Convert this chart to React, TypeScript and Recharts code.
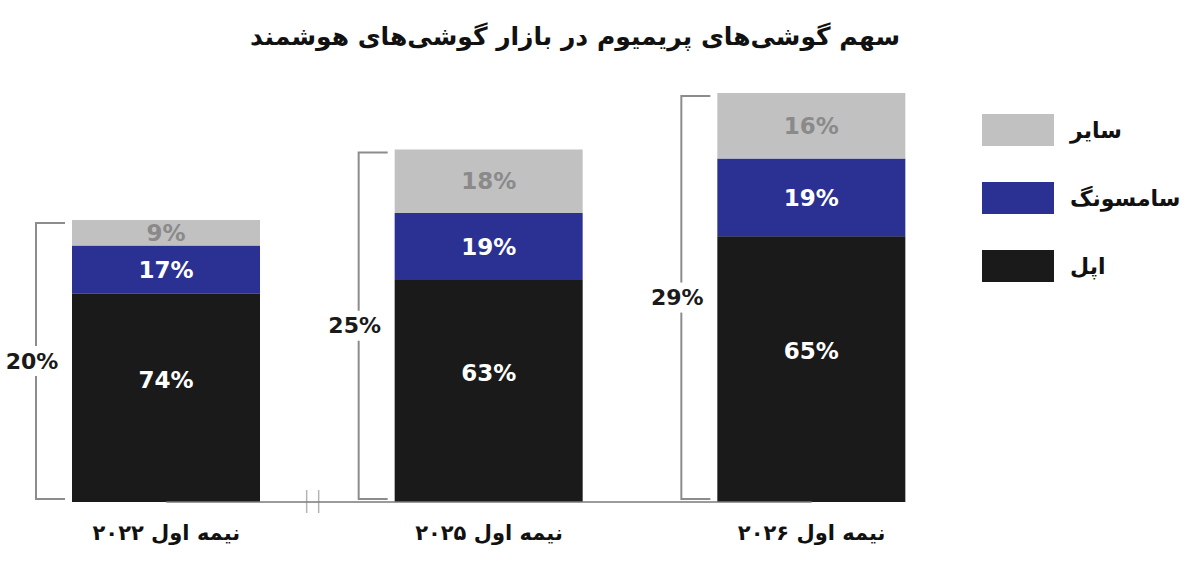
import React from "react";
import { BarChart, Bar, XAxis, YAxis, LabelList, Legend, ReferenceLine } from "recharts";

const categories = ["نیمه اول ۲۰۲۲", "نیمه اول ۲۰۲۵", "نیمه اول ۲۰۲۶"];
// share of premium phones in the whole smartphone market
const premiumTotal = [20, 25, 29];
// split of the premium segment between brands
const appleShare = [74, 63, 65];
const samsungShare = [17, 19, 19];
const otherShare = [9, 18, 16];

const legendItems = [
    { name: "سایر", color: "#c1c1c1" },
    { name: "سامسونگ", color: "#2b3192" },
    { name: "اپل", color: "#1a1a1a" },
];

const FONT = "'DejaVu Sans', sans-serif";

const data = categories.map((name, i) => ({
    name,
    total: premiumTotal[i],
    appleShare: appleShare[i],
    samsungShare: samsungShare[i],
    otherShare: otherShare[i],
    apple: (premiumTotal[i] * appleShare[i]) / 100,
    samsung: (premiumTotal[i] * samsungShare[i]) / 100,
    other: (premiumTotal[i] * otherShare[i]) / 100,
}));

// bottom segment also draws the bracket with the total share on its left
// eslint-disable-next-line @typescript-eslint/no-explicit-any
const AppleShape = (props: any) => {
    const { x, y, width, height, fill, payload, index } = props;
    const bottom = y + height;
    const pxPerUnit = height / payload.apple;
    const top = bottom - payload.total * pxPerUnit;
    const lx = x - 36;
    const t = top + 3;
    const b = bottom - 3;
    const mid = (t + b) / 2;
    return (
        <g>
            <rect x={x} y={y} width={width} height={height} fill={fill} />
            <path d={`M${x - 7},${t}H${lx}V${b}H${x - 7}`} stroke="#8c8c8c" strokeWidth={2} fill="none" />
            <rect x={lx - 32} y={mid - 15} width={58} height={30} fill="#fff" />
            <text x={lx - 4} y={mid} textAnchor="middle" dominantBaseline="central"
                fontFamily={FONT} fontWeight="bold" fontSize={22} fill="#1a1a1a">
                {payload.total}%
            </text>
            {index === 1 && (
                <g stroke="#b5b5b5" strokeWidth={1.5}>
                    <line x1={x - 88} y1={bottom - 12} x2={x - 88} y2={bottom + 11} />
                    <line x1={x - 76} y1={bottom - 12} x2={x - 76} y2={bottom + 11} />
                </g>
            )}
        </g>
    );
};

// eslint-disable-next-line @typescript-eslint/no-explicit-any
const CategoryTick = ({ x, y, payload }: any) => (
    <text x={x} y={y + 38} textAnchor="middle" fontFamily={FONT} fontWeight="bold" fontSize={21} fill="#111">
        {payload.value}
    </text>
);

const LegendBox = () => (
    <div style={{ fontFamily: FONT }}>
        {legendItems.map((item) => (
            <div key={item.name} style={{ display: "flex", alignItems: "center", height: 32, marginBottom: 36 }}>
                <div style={{ width: 72, height: 32, background: item.color }} />
                <span style={{ marginLeft: 16, fontWeight: "bold", fontSize: 22, color: "#111" }}>{item.name}</span>
            </div>
        ))}
    </div>
);

const pctLabel = (v: number) => `${v}%`;
const labelStyle = { fontFamily: FONT, fontWeight: "bold", fontSize: 23 };

export default function App() {
    return (
        <div style={{ position: "absolute", left: 0, top: 0, width: 1200, height: 583, background: "#fff" }}>
            <div style={{
                position: "absolute", left: 0, top: 22, width: 1150, textAlign: "center",
                fontFamily: FONT, fontWeight: "bold", fontSize: 25, color: "#111"
            }}>
                سهم گوشی‌های پریمیوم در  بازار گوشی‌های هوشمند
            </div>
            <BarChart width={1200} height={583} data={data} margin={{ top: 79, right: 227, left: 5, bottom: 21 }}>
                <XAxis dataKey="name" axisLine={false} tickLine={false} tickSize={0} tickMargin={0} height={60}
                    tick={<CategoryTick />} interval={0} />
                <YAxis hide domain={[0, 30]} />
                <ReferenceLine segment={[{ x: categories[0], y: 0 }, { x: categories[2], y: 0 }]}
                    stroke="#7a7a7a" strokeWidth={1.5} />
                <Legend layout="vertical" align="center" verticalAlign="middle" content={<LegendBox />}
                    wrapperStyle={{ left: 982, top: 114, width: 215 }} />
                <Bar dataKey="apple" stackId="a" fill="#1a1a1a" barSize={188} shape={<AppleShape />} isAnimationActive={false}>
                    <LabelList dataKey="appleShare" position="center" formatter={pctLabel} dy={-18}
                        style={{ ...labelStyle, fill: "#fff" }} />
                </Bar>
                <Bar dataKey="samsung" stackId="a" fill="#2b3192" barSize={188} isAnimationActive={false}>
                    <LabelList dataKey="samsungShare" position="center" formatter={pctLabel}
                        style={{ ...labelStyle, fill: "#fff" }} />
                </Bar>
                <Bar dataKey="other" stackId="a" fill="#c1c1c1" barSize={188} isAnimationActive={false}>
                    <LabelList dataKey="otherShare" position="center" formatter={pctLabel}
                        style={{ ...labelStyle, fill: "#8a8a8a" }} />
                </Bar>
            </BarChart>
        </div>
    );
}
